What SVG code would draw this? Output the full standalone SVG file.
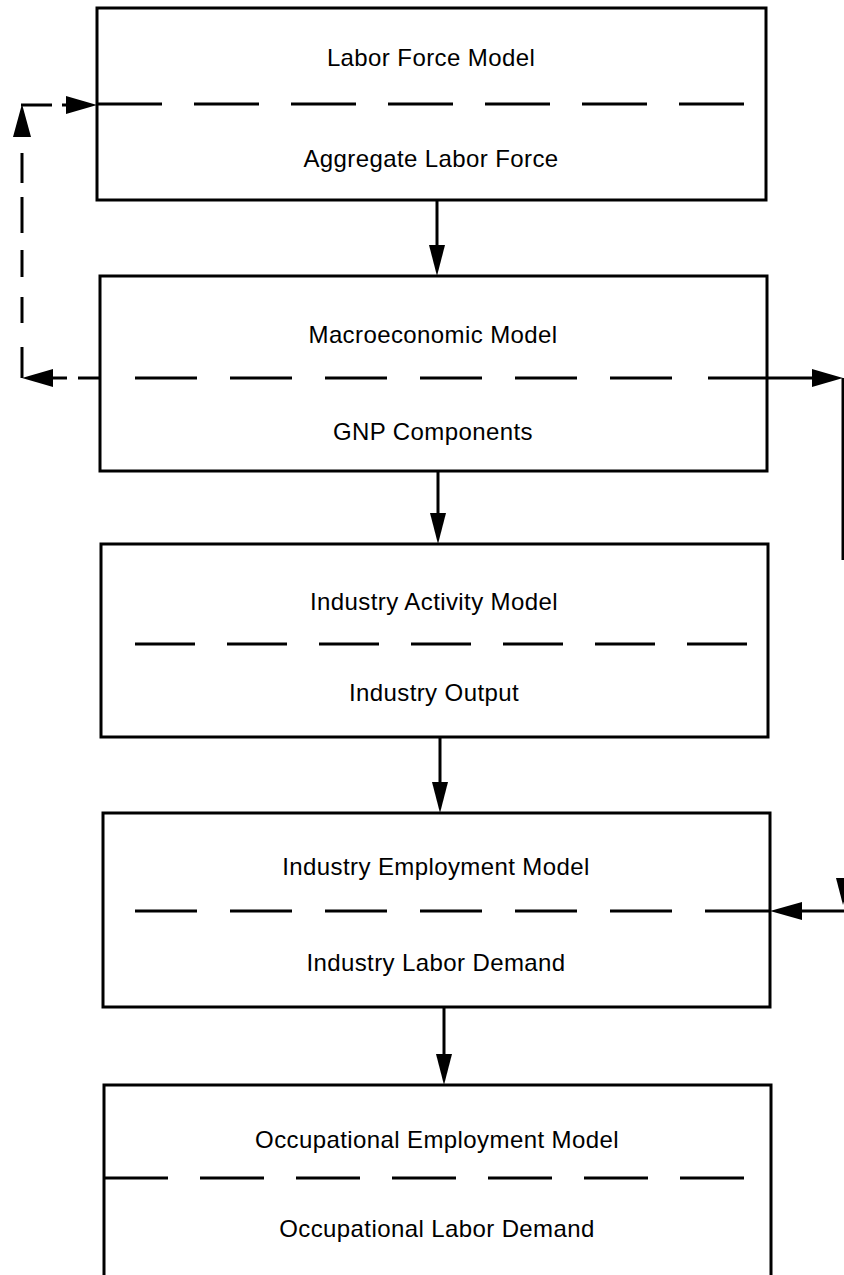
<svg xmlns="http://www.w3.org/2000/svg" width="844" height="1275" viewBox="0 0 844 1275">
<style>
.box{fill:none;stroke:#000;stroke-width:3}
.div{stroke:#000;stroke-width:3;fill:none}
.lbl{font-family:"Liberation Sans",Arial,sans-serif;font-size:24px;letter-spacing:0.4px;fill:#000;text-anchor:middle}
.con{stroke:#000;stroke-width:3;fill:none}
.head{fill:#000;stroke:none}
</style>
<rect width="844" height="1275" fill="#fff"/>
<g id="node-labor-force">
<rect class="box" x="97" y="8" width="669" height="192"/>
<line class="div" x1="97" y1="104" x2="744" y2="104" stroke-dasharray="65 32"/>
<text class="lbl" x="431" y="66">Labor Force Model</text>
<text class="lbl" x="431" y="167">Aggregate Labor Force</text>
</g>
<g id="node-macroeconomic">
<rect class="box" x="100" y="276" width="667" height="195"/>
<line class="div" x1="135" y1="378" x2="674" y2="378" stroke-dasharray="62 33"/>
<text class="lbl" x="433" y="343">Macroeconomic Model</text>
<text class="lbl" x="433" y="440">GNP Components</text>
</g>
<g id="node-industry-activity">
<rect class="box" x="101" y="544" width="667" height="193"/>
<line class="div" x1="135" y1="644" x2="747" y2="644" stroke-dasharray="60 32"/>
<text class="lbl" x="434" y="610">Industry Activity Model</text>
<text class="lbl" x="434" y="701">Industry Output</text>
</g>
<g id="node-industry-employment">
<rect class="box" x="103" y="813" width="667" height="194"/>
<line class="div" x1="135" y1="911" x2="705" y2="911" stroke-dasharray="62 33"/>
<text class="lbl" x="436" y="875">Industry Employment Model</text>
<text class="lbl" x="436" y="971">Industry Labor Demand</text>
</g>
<g id="node-occupational-employment">
<rect class="box" x="104" y="1085" width="667" height="210"/>
<line class="div" x1="104" y1="1178" x2="746" y2="1178" stroke-dasharray="64 32"/>
<text class="lbl" x="437" y="1148">Occupational Employment Model</text>
<text class="lbl" x="437" y="1237">Occupational Labor Demand</text>
</g>
<g id="connectors">
<line class="con" x1="437" y1="200" x2="437" y2="250"/>
<polygon class="head" points="429,245 445,245 437,276"/>
<line class="con" x1="438" y1="471" x2="438" y2="518"/>
<polygon class="head" points="430,513 446,513 438,544"/>
<line class="con" x1="440" y1="737" x2="440" y2="787"/>
<polygon class="head" points="432,782 448,782 440,813"/>
<line class="con" x1="444" y1="1007" x2="444" y2="1059"/>
<polygon class="head" points="436,1054 452,1054 444,1085"/>
<!-- left feedback loop -->
<line class="con" x1="78" y1="378" x2="100" y2="378"/>
<line class="con" x1="50" y1="378" x2="67" y2="378"/>
<polygon class="head" points="53,369 53,387 22,378"/>
<line class="con" x1="22" y1="347" x2="22" y2="378"/>
<line class="con" x1="22" y1="297" x2="22" y2="323"/>
<line class="con" x1="22" y1="250" x2="22" y2="277"/>
<line class="con" x1="22" y1="197" x2="22" y2="233"/>
<line class="con" x1="22" y1="153" x2="22" y2="183"/>
<polygon class="head" points="13,137 31,137 22,104"/>
<line class="con" x1="21" y1="105" x2="52" y2="105"/>
<line class="con" x1="62" y1="105" x2="70" y2="105"/>
<polygon class="head" points="66,96 66,114 97,105"/>
<!-- right loop -->
<line class="con" x1="708" y1="378" x2="815" y2="378"/>
<polygon class="head" points="812,369 812,387 843,378"/>
<line class="con" x1="843" y1="378" x2="843" y2="560"/>
<polygon class="head" points="836,878 850,878 843,905"/>
<line class="con" x1="705" y1="911" x2="770" y2="911"/>
<line class="con" x1="800" y1="911" x2="844" y2="911"/>
<polygon class="head" points="802,902 802,920 770,911"/>
</g>
</svg>
